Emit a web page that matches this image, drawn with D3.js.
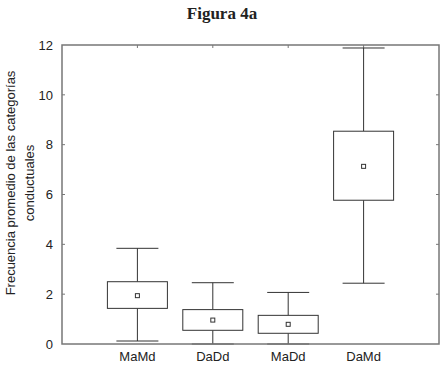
<!DOCTYPE html>
<html>
<head>
<meta charset="utf-8">
<script src="https://cdn.jsdelivr.net/npm/d3@7"></script>
<style>
  body { margin: 0; background: #fff; }
  svg text { font-family: "Liberation Sans", Arial, sans-serif; fill: #222; }
</style>
</head>
<body>
<div id="chart"></div>
<script>
const categories = ['MaMd', 'DaDd', 'MaDd', 'DaMd'];
const whiskerLow = [0.12, 0, 0, 2.44];
const boxLow = [1.43, 0.55, 0.43, 5.77];
const means = [1.94, 0.96, 0.79, 7.13];
const boxHigh = [2.50, 1.38, 1.15, 8.54];
const whiskerHigh = [3.84, 2.46, 2.07, 11.88];
const yTicks = [0, 2, 4, 6, 8, 10, 12];

const width = 448, height = 376;
const margin = { top: 45, right: 9, bottom: 32, left: 62 };
const innerW = width - margin.left - margin.right;
const innerH = height - margin.top - margin.bottom;

const svg = d3.select('#chart').append('svg')
  .attr('width', width)
  .attr('height', height);

svg.append('text')
  .attr('x', 222)
  .attr('y', 19)
  .attr('text-anchor', 'middle')
  .style('font-family', '"Liberation Serif", "DejaVu Serif", serif')
  .style('font-weight', 'bold')
  .style('font-size', '17px')
  .text('Figura 4a');

const g = svg.append('g')
  .attr('transform', `translate(${margin.left},${margin.top})`);

// categories sit at positions 1..4 on a 0..5 range
const x = d3.scaleLinear().domain([0, 5]).range([0, innerW]);
const y = d3.scaleLinear().domain([0, 12]).range([innerH, 0]);

const frame = '#777';

// inward ticks on all four sides
const left = g.append('g').call(d3.axisLeft(y).tickValues(yTicks).tickSize(0).tickPadding(9));
left.select('.domain').remove();
left.selectAll('text').style('font-size', '13px');

g.append('g').selectAll('line')
  .data(yTicks.slice(1, -1))
  .join('line')
  .attr('x1', 0).attr('x2', 3)
  .attr('y1', d => y(d)).attr('y2', d => y(d))
  .attr('stroke', frame);

g.append('g').selectAll('line')
  .data(yTicks.slice(1, -1))
  .join('line')
  .attr('x1', innerW).attr('x2', innerW - 3)
  .attr('y1', d => y(d)).attr('y2', d => y(d))
  .attr('stroke', frame);

g.append('g').selectAll('line')
  .data(d3.range(1, 5))
  .join('line')
  .attr('x1', d => x(d)).attr('x2', d => x(d))
  .attr('y1', 0).attr('y2', 3)
  .attr('stroke', frame);

g.append('g').selectAll('text')
  .data(categories)
  .join('text')
  .attr('x', (d, i) => x(i + 1))
  .attr('y', innerH + 17)
  .attr('text-anchor', 'middle')
  .style('font-size', '13px')
  .text(d => d);

const boxW = 60, capW = 42;
const stroke = '#333';

const boxes = g.append('g').selectAll('g')
  .data(categories)
  .join('g')
  .attr('transform', (d, i) => `translate(${x(i + 1)},0)`);

boxes.append('line')
  .attr('x1', 0).attr('x2', 0)
  .attr('y1', (d, i) => y(whiskerHigh[i]))
  .attr('y2', (d, i) => y(boxHigh[i]))
  .attr('stroke', stroke);

boxes.append('line')
  .attr('x1', 0).attr('x2', 0)
  .attr('y1', (d, i) => y(boxLow[i]))
  .attr('y2', (d, i) => y(whiskerLow[i]))
  .attr('stroke', stroke);

boxes.append('line')
  .attr('x1', -capW / 2).attr('x2', capW / 2)
  .attr('y1', (d, i) => y(whiskerHigh[i]))
  .attr('y2', (d, i) => y(whiskerHigh[i]))
  .attr('stroke', stroke);

boxes.append('line')
  .attr('x1', -capW / 2).attr('x2', capW / 2)
  .attr('y1', (d, i) => y(whiskerLow[i]))
  .attr('y2', (d, i) => y(whiskerLow[i]))
  .attr('stroke', stroke);

boxes.append('rect')
  .attr('x', -boxW / 2)
  .attr('width', boxW)
  .attr('y', (d, i) => y(boxHigh[i]))
  .attr('height', (d, i) => y(boxLow[i]) - y(boxHigh[i]))
  .attr('fill', '#fff')
  .attr('stroke', stroke);

boxes.append('rect')
  .attr('x', -2)
  .attr('y', (d, i) => y(means[i]) - 2)
  .attr('width', 4)
  .attr('height', 4)
  .attr('fill', '#fff')
  .attr('stroke', stroke);

g.append('rect')
  .attr('width', innerW)
  .attr('height', innerH)
  .attr('fill', 'none')
  .attr('stroke', frame)
  .attr('stroke-width', 1.5);

const label = svg.append('text')
  .attr('transform', 'translate(15,183) rotate(-90)')
  .attr('text-anchor', 'middle')
  .style('font-size', '13px');
label.append('tspan').attr('x', 0).attr('dy', 0).text('Frecuencia promedio de las categorías');
label.append('tspan').attr('x', 0).attr('dy', 19).text('conductuales');
</script>
</body>
</html>
